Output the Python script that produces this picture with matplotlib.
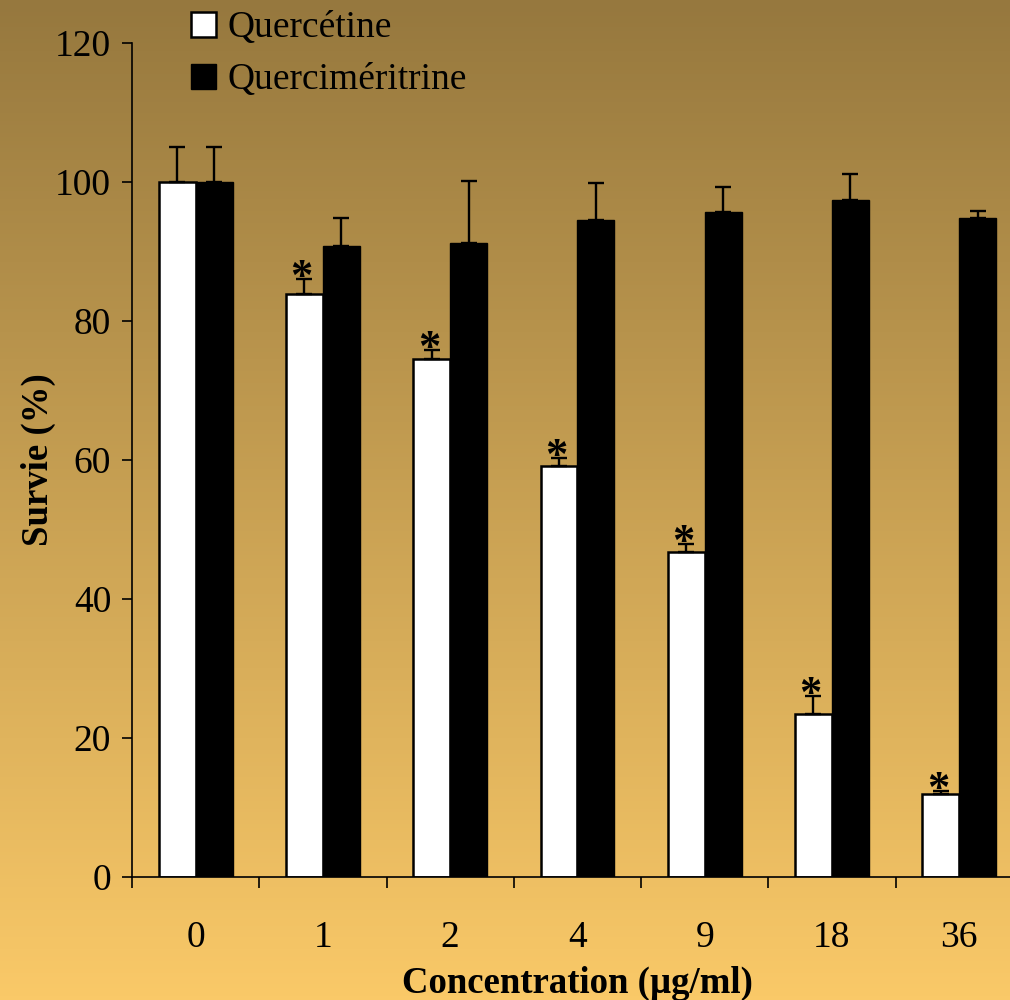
import numpy as np
import matplotlib.pyplot as plt
from matplotlib.patches import Patch

# -------------------------
# Data
# -------------------------
concentrations = ["0", "1", "2", "4", "9", "18", "36"]

quercetine = [100, 83.9, 74.5, 59.1, 46.8, 23.5, 11.9]
quercetine_err = [5.0, 2.1, 1.3, 1.2, 1.1, 2.5, 0.5]

quercimeritrine = [100, 90.8, 91.2, 94.5, 95.7, 97.4, 94.8]
quercimeritrine_err = [5.0, 4.0, 8.9, 5.4, 3.6, 3.8, 1.0]

series_names = ["Quercétine", "Quercimériritrine".replace("ririt", "rit")]

# groups marked significant
significant = [False, True, True, True, True, True, True]

plt.rcParams["font.family"] = ["Liberation Serif", "DejaVu Serif"]

fig = plt.figure(figsize=(10.1, 10.0), dpi=100)

# vertical background gradient, dark olive at top to light orange at bottom
bg = fig.add_axes([0, 0, 1, 1], zorder=-10)
top = np.array([150, 120, 62]) / 255
bottom = np.array([250, 201, 104]) / 255
t = np.linspace(0, 1, 256)[:, None]
grad = (top * (1 - t) + bottom * t)[:, None, :]
bg.imshow(grad, aspect="auto", extent=[0, 1, 0, 1], origin="upper")
bg.axis("off")

ax = fig.add_axes([0.1307, 0.123, 0.882, 0.834])
ax.patch.set_alpha(0)

x = np.arange(len(concentrations))
w = 0.29

ax.bar(x - w / 2, quercetine, w, color="white", edgecolor="black",
       linewidth=1.8, zorder=2)
ax.bar(x + w / 2, quercimeritrine, w, color="black", edgecolor="black",
       linewidth=1.0, zorder=2)

zeros = np.zeros(len(x))
ax.errorbar(x - w / 2, quercetine, yerr=[zeros, quercetine_err], fmt="none",
            ecolor="black", elinewidth=1.7, capsize=5.5, capthick=1.7, zorder=3)
ax.errorbar(x + w / 2, quercimeritrine, yerr=[zeros, quercimeritrine_err],
            fmt="none", ecolor="black", elinewidth=1.7, capsize=5.5,
            capthick=1.7, zorder=3)

for i, sig in enumerate(significant):
    if sig:
        ax.annotate("*", (x[i] - w / 2, quercetine[i] + quercetine_err[i]),
                    xytext=(-2, -7), textcoords="offset points",
                    ha="center", va="baseline", fontsize=32,
                    fontweight="bold", zorder=4)

ax.set_xlim(-0.5, len(x) - 0.5)
ax.set_ylim(0, 120)
ax.set_yticks(np.arange(0, 121, 20))

ax.set_xticks(x)
ax.set_xticklabels(concentrations)
ax.set_xticks(np.arange(-0.5, len(x), 1), minor=True)
ax.tick_params(axis="x", which="major", length=0, pad=31, labelsize=27)
ax.tick_params(axis="x", which="minor", length=8, width=1.2, direction="out")
ax.tick_params(axis="y", length=7, width=1.2, pad=8, labelsize=27)

for side in ("top", "right"):
    ax.spines[side].set_visible(False)
for side in ("left", "bottom"):
    ax.spines[side].set_linewidth(1.2)

ax.set_ylabel("Survie (%)", fontsize=26.5, fontweight="bold", labelpad=-1)
ax.set_xlabel("Concentration (µg/ml)", fontsize=26.5, fontweight="bold",
              labelpad=8)

handles = [Patch(facecolor="white", edgecolor="black", linewidth=1.8),
           Patch(facecolor="black", edgecolor="black")]
fig.legend(handles, series_names,
           loc="upper left", bbox_to_anchor=(0.171, 1.008), frameon=False,
           fontsize=27, handlelength=0.65, handleheight=0.65,
           handletextpad=0.3, labelspacing=0.47, borderpad=0)

fig.savefig("out.png", dpi=100)
